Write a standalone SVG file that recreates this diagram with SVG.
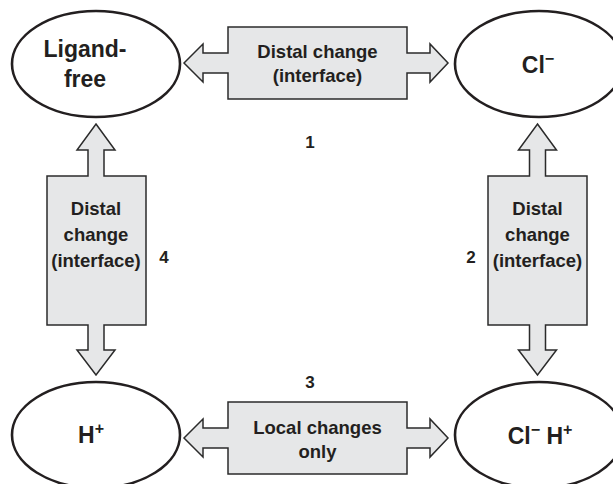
<svg xmlns="http://www.w3.org/2000/svg" width="613" height="484" viewBox="0 0 613 484">
<style>
  .node { fill: #ffffff; stroke: #231f20; stroke-width: 2.6; }
  .arrow { fill: #e6e7e8; stroke: #2b2b2b; stroke-width: 1.5; stroke-linejoin: miter; }
  .ntext { font-family: "Liberation Sans", Arial, sans-serif; font-weight: bold; font-size: 23px; fill: #231f20; text-anchor: middle; }
  .btext { font-family: "Liberation Sans", Arial, sans-serif; font-weight: bold; font-size: 18.5px; fill: #231f20; text-anchor: middle; }
  .num { font-family: "Liberation Sans", Arial, sans-serif; font-weight: bold; font-size: 17px; fill: #231f20; text-anchor: middle; }
  .sup { font-size: 16px; }
</style>
<rect width="613" height="484" fill="#ffffff"/>
<g id="connectors">
  <g id="c1">
    <path class="arrow" d="M184,63 L203,44 L203,53 L228,53 L228,27 L407,27 L407,53 L430,53 L430,44 L448,63 L430,82 L430,73 L407,73 L407,99 L228,99 L228,73 L203,73 L203,82 Z"/>
    <text class="btext" x="317.5" y="58">Distal change</text>
    <text class="btext" x="317.5" y="82">(interface)</text>
    <text class="num" x="310" y="148">1</text>
  </g>
  <g id="c2">
    <path class="arrow" d="M537.5,124 L556.5,150 L545.5,150 L545.5,176 L587,176 L587,325 L545.5,325 L545.5,350 L556.5,350 L537.5,375 L518.5,350 L529.5,350 L529.5,325 L488,325 L488,176 L529.5,176 L529.5,150 L518.5,150 Z"/>
    <text class="btext" x="537.5" y="215">Distal</text>
    <text class="btext" x="537.5" y="241">change</text>
    <text class="btext" x="537.5" y="267">(interface)</text>
    <text class="num" x="471" y="263">2</text>
  </g>
  <g id="c3">
    <path class="arrow" d="M184,438 L203,419 L203,428 L228,428 L228,402 L407,402 L407,428 L430,428 L430,419 L448,438 L430,457 L430,448 L407,448 L407,474 L228,474 L228,448 L203,448 L203,457 Z"/>
    <text class="btext" x="317.5" y="434">Local changes</text>
    <text class="btext" x="317.5" y="458">only</text>
    <text class="num" x="310" y="388">3</text>
  </g>
  <g id="c4">
    <path class="arrow" d="M96,124 L115,150 L104,150 L104,176 L146,176 L146,325 L104,325 L104,350 L115,350 L96,375 L77,350 L88,350 L88,325 L47,325 L47,176 L88,176 L88,150 L77,150 Z"/>
    <text class="btext" x="96" y="215">Distal</text>
    <text class="btext" x="96" y="241">change</text>
    <text class="btext" x="96" y="267">(interface)</text>
    <text class="num" x="164" y="263">4</text>
  </g>
</g>
<g id="ligand-free">
  <ellipse class="node" cx="96" cy="64" rx="84" ry="53"/>
  <text class="ntext" x="85" y="57">Ligand-</text>
  <text class="ntext" x="85" y="87">free</text>
</g>
<g id="cl">
  <ellipse class="node" cx="539" cy="64" rx="84" ry="53"/>
  <text class="ntext" x="538" y="73">Cl<tspan class="sup" dy="-9">−</tspan></text>
</g>
<g id="h">
  <ellipse class="node" cx="96" cy="435" rx="84" ry="53"/>
  <text class="ntext" x="91" y="443">H<tspan class="sup" dy="-9">+</tspan></text>
</g>
<g id="cl-h">
  <ellipse class="node" cx="539" cy="435" rx="84" ry="53"/>
  <text class="ntext" x="540" y="444">Cl<tspan class="sup" dy="-9">−</tspan><tspan dy="9"> H</tspan><tspan class="sup" dy="-9">+</tspan></text>
</g>
</svg>
